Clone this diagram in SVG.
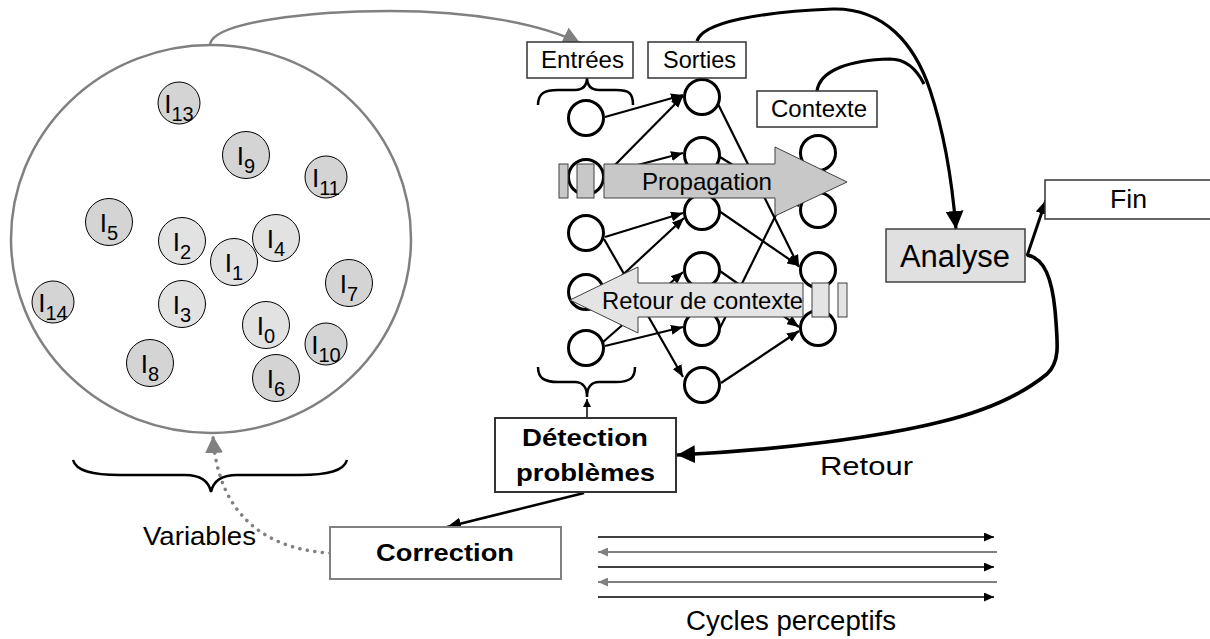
<svg xmlns="http://www.w3.org/2000/svg" width="1210" height="639" viewBox="0 0 1210 639">
<style>
text{font-family:"Liberation Sans",Arial,sans-serif;fill:#000}
.lbl{font-size:24px}
.bold{font-weight:bold;font-size:24px}
.box{fill:#fff;stroke:#333;stroke-width:1.5}
.nn{fill:#fff;stroke:#000;stroke-width:3}
.edge{stroke:#000;stroke-width:2.2;fill:none;marker-end:url(#ah)}
.var{stroke:#000;stroke-width:1}
.vl{fill:#e2e2e2}
.vd{fill:#d4d4d4}
.vt{font-size:26px}
.sub{font-size:20px}
.brace{fill:none;stroke:#000;stroke-width:2.5}
.curve{fill:none;stroke:#000;stroke-width:3.2}
.cyc{stroke:#000;stroke-width:1.6;marker-end:url(#ahS)}
.cycg{stroke:#808080;stroke-width:2;marker-end:url(#ahSG)}
</style>
<defs>
<marker id="ah" markerUnits="userSpaceOnUse" markerWidth="13" markerHeight="10" refX="12" refY="5" orient="auto"><path d="M0,0 L12,5 L0,10 Z" fill="#000"/></marker>
<marker id="ahB" markerUnits="userSpaceOnUse" markerWidth="19" markerHeight="18" refX="18" refY="9" orient="auto"><path d="M0,0 L18,9 L0,18 Z" fill="#000"/></marker>
<marker id="ahM" markerUnits="userSpaceOnUse" markerWidth="15" markerHeight="12" refX="14" refY="6" orient="auto"><path d="M0,0 L14,6 L0,12 Z" fill="#000"/></marker>
<marker id="ahG" markerUnits="userSpaceOnUse" markerWidth="18" markerHeight="18" refX="17" refY="9" orient="auto"><path d="M0,0 L17,9 L0,18 Z" fill="#808080"/></marker>
<marker id="ahS" markerUnits="userSpaceOnUse" markerWidth="11" markerHeight="9" refX="10" refY="4.5" orient="auto"><path d="M0,0 L10,4.5 L0,9 Z" fill="#000"/></marker>
<marker id="ahSG" markerUnits="userSpaceOnUse" markerWidth="11" markerHeight="9" refX="10" refY="4.5" orient="auto"><path d="M0,0 L10,4.5 L0,9 Z" fill="#808080"/></marker>
<marker id="ahT" markerUnits="userSpaceOnUse" markerWidth="9" markerHeight="8" refX="8" refY="4" orient="auto"><path d="M0,0 L8,4 L0,8 Z" fill="#000"/></marker>
</defs>

<!-- Variables cloud -->
<g id="variables-set">
<ellipse cx="211" cy="239" rx="200" ry="194" fill="#fff" stroke="#808080" stroke-width="2.5"/>
</g>
<g id="var-I13"><circle class="var vd" cx="179" cy="103" r="21"/><text class="vt" x="179" y="113" text-anchor="middle">I<tspan class="sub" dy="8">13</tspan></text></g>
<g id="var-I9"><circle class="var vd" cx="246" cy="155" r="23.5"/><text class="vt" x="246" y="165" text-anchor="middle">I<tspan class="sub" dy="8">9</tspan></text></g>
<g id="var-I11"><circle class="var vd" cx="326" cy="177" r="21"/><text class="vt" x="326" y="187" text-anchor="middle">I<tspan class="sub" dy="8">11</tspan></text></g>
<g id="var-I5"><circle class="var vd" cx="109" cy="222" r="23.5"/><text class="vt" x="109" y="232" text-anchor="middle">I<tspan class="sub" dy="8">5</tspan></text></g>
<g id="var-I2"><circle class="var vl" cx="182" cy="241" r="23.5"/><text class="vt" x="182" y="251" text-anchor="middle">I<tspan class="sub" dy="8">2</tspan></text></g>
<g id="var-I4"><circle class="var vl" cx="276" cy="238" r="23.5"/><text class="vt" x="276" y="248" text-anchor="middle">I<tspan class="sub" dy="8">4</tspan></text></g>
<g id="var-I1"><circle class="var vl" cx="234" cy="262" r="23.5"/><text class="vt" x="234" y="272" text-anchor="middle">I<tspan class="sub" dy="8">1</tspan></text></g>
<g id="var-I7"><circle class="var vd" cx="349" cy="283" r="23.5"/><text class="vt" x="349" y="293" text-anchor="middle">I<tspan class="sub" dy="8">7</tspan></text></g>
<g id="var-I14"><circle class="var vd" cx="53" cy="302" r="21"/><text class="vt" x="53" y="312" text-anchor="middle">I<tspan class="sub" dy="8">14</tspan></text></g>
<g id="var-I3"><circle class="var vl" cx="182" cy="304" r="23.5"/><text class="vt" x="182" y="314" text-anchor="middle">I<tspan class="sub" dy="8">3</tspan></text></g>
<g id="var-I0"><circle class="var vl" cx="266" cy="325" r="23.5"/><text class="vt" x="266" y="335" text-anchor="middle">I<tspan class="sub" dy="8">0</tspan></text></g>
<g id="var-I10"><circle class="var vd" cx="326" cy="344" r="21"/><text class="vt" x="326" y="354" text-anchor="middle">I<tspan class="sub" dy="8">10</tspan></text></g>
<g id="var-I8"><circle class="var vd" cx="150" cy="363" r="23.5"/><text class="vt" x="150" y="373" text-anchor="middle">I<tspan class="sub" dy="8">8</tspan></text></g>
<g id="var-I6"><circle class="var vd" cx="276" cy="378" r="23.5"/><text class="vt" x="276" y="388" text-anchor="middle">I<tspan class="sub" dy="8">6</tspan></text></g>

<!-- connectors -->
<g id="connectors">
<path d="M210,44 C215,22 310,11 390,11 C475,11 540,24 580,43" fill="none" stroke="#808080" stroke-width="2.5" marker-end="url(#ahG)"/>
<path d="M330,553 C272,550 218,520 213,436" fill="none" stroke="#808080" stroke-width="3.5" stroke-linecap="round" stroke-dasharray="0.1 7.5" marker-end="url(#ahG)"/>
<line class="edge" x1="605" y1="117" x2="683" y2="95"/>
<line class="edge" x1="610" y1="170" x2="683" y2="96"/>
<line class="edge" x1="615" y1="171" x2="683" y2="153"/>
<line class="edge" x1="605" y1="237" x2="683" y2="213"/>
<line class="edge" x1="600" y1="296" x2="684" y2="218"/>
<line class="edge" x1="604" y1="239" x2="683" y2="377"/>
<line class="edge" x1="605" y1="346" x2="683" y2="327"/>
<line class="edge" x1="603" y1="342" x2="683" y2="272"/>
<line class="edge" x1="718" y1="104" x2="799" y2="267"/>
<line class="edge" x1="720" y1="157" x2="799" y2="206"/>
<line class="edge" x1="719" y1="211" x2="799" y2="266"/>
<line class="edge" x1="720" y1="328" x2="800" y2="166"/>
<line class="edge" x1="720" y1="271" x2="799" y2="327"/>
<line class="edge" x1="721" y1="383" x2="799" y2="331"/>
<path class="curve" d="M697,41 C703,22 760,12 833,9 C885,8 915,45 930,90 C945,135 952,180 956,229" marker-end="url(#ahB)"/>
<path class="curve" d="M817,91 C820,70 850,60 890,59 C905,59 916,68 924,84"/>
<line x1="1027" y1="256" x2="1046" y2="200" stroke="#000" stroke-width="3" marker-end="url(#ahM)"/>
<path d="M1027,255 C1045,258 1052,280 1055,310 C1058,345 1060,362 1047,374 C1025,392 990,410 940,422 C880,437 780,450 677,455" fill="none" stroke="#000" stroke-width="3.6" marker-end="url(#ahB)"/>
<line x1="584" y1="493" x2="447" y2="527" stroke="#000" stroke-width="2.5" marker-end="url(#ahM)"/>
<line x1="587" y1="418" x2="587" y2="399" stroke="#000" stroke-width="1.5" marker-end="url(#ahT)"/>
<line class="cyc" x1="598" y1="537" x2="994" y2="537"/>
<line class="cycg" x1="997" y1="552" x2="598" y2="552"/>
<line class="cyc" x1="598" y1="567" x2="994" y2="567"/>
<line class="cycg" x1="997" y1="582" x2="598" y2="582"/>
<line class="cyc" x1="598" y1="597" x2="994" y2="597"/>
</g>

<!-- braces -->
<g id="brace-entrees"><path class="brace" d="M538,105 C538,93 545,90 558,90 L575,90 C583,90 587,85 587,77 C587,85 591,90 599,90 L616,90 C629,90 633,93 633,105"/></g>
<g id="brace-bottom"><path class="brace" d="M538,367 C538,378 544,382 558,382 L575,382 C583,382 587,388 587,397 C587,388 591,382 599,382 L616,382 C630,382 635,378 635,367"/></g>
<g id="brace-variables"><path class="brace" d="M73,460 C76,471 92,475 120,475 L185,475 C202,475 209,482 211,492 C213,482 220,475 237,475 L300,475 C328,475 344,471 347,460"/></g>

<!-- network nodes -->
<g id="in1"><circle class="nn" cx="586" cy="118" r="17.5"/></g>
<g id="in2"><circle class="nn" cx="586" cy="177" r="17.5"/></g>
<g id="in3"><circle class="nn" cx="586" cy="233" r="17.5"/></g>
<g id="in4"><circle class="nn" cx="586" cy="292" r="17.5"/></g>
<g id="in5"><circle class="nn" cx="586" cy="348" r="17.5"/></g>
<g id="h1"><circle class="nn" cx="702" cy="97" r="17.5"/></g>
<g id="h2"><circle class="nn" cx="702" cy="155" r="17.5"/></g>
<g id="h3"><circle class="nn" cx="702" cy="212" r="17.5"/></g>
<g id="h4"><circle class="nn" cx="702" cy="270" r="17.5"/></g>
<g id="h5"><circle class="nn" cx="702" cy="328" r="17.5"/></g>
<g id="h6"><circle class="nn" cx="702" cy="385" r="17.5"/></g>
<g id="o1"><circle class="nn" cx="818" cy="153" r="17.5"/></g>
<g id="o2"><circle class="nn" cx="818" cy="210" r="17.5"/></g>
<g id="o3"><circle class="nn" cx="818" cy="270" r="17.5"/></g>
<g id="o4"><circle class="nn" cx="818" cy="328" r="17.5"/></g>

<!-- big arrows -->
<g id="propagation">
<rect x="559" y="164" width="9" height="34" fill="#c8c8c8" stroke="#404040" stroke-width="1"/>
<rect x="577" y="164" width="17" height="34" fill="#c8c8c8" stroke="#404040" stroke-width="1"/>
<polygon points="604,164 775,164 775,147 847,182 775,216 775,198 604,198" fill="#c8c8c8" stroke="#404040" stroke-width="1"/>
<text class="lbl" x="642" y="190" textLength="130" lengthAdjust="spacingAndGlyphs">Propagation</text>
</g>
<g id="retour-contexte">
<polygon points="803,283 638,283 638,267 570,300 638,333 638,317 803,317" fill="#e4e4e4" stroke="#404040" stroke-width="1"/>
<rect x="812" y="283" width="17" height="34" fill="#e4e4e4" stroke="#404040" stroke-width="1"/>
<rect x="838" y="283" width="9" height="34" fill="#e4e4e4" stroke="#404040" stroke-width="1"/>
<text class="lbl" x="602" y="309" textLength="201" lengthAdjust="spacingAndGlyphs">Retour de contexte</text>
</g>

<!-- label boxes -->
<g id="entrees"><rect class="box" x="527" y="42" width="106" height="36"/><text class="lbl" x="541" y="68" textLength="83" lengthAdjust="spacingAndGlyphs">Entrées</text></g>
<g id="sorties"><rect class="box" x="648" y="42" width="98" height="36"/><text class="lbl" x="663" y="68" textLength="73" lengthAdjust="spacingAndGlyphs">Sorties</text></g>
<g id="contexte"><rect class="box" x="757" y="91" width="120" height="36"/><text class="lbl" x="771" y="117" textLength="96" lengthAdjust="spacingAndGlyphs">Contexte</text></g>
<g id="analyse"><rect x="886" y="229" width="139" height="53" fill="#e0e0e0" stroke="#404040" stroke-width="1.5"/><text x="900" y="267" font-size="31" textLength="110" lengthAdjust="spacingAndGlyphs">Analyse</text></g>
<g id="fin"><rect class="box" x="1045" y="180" width="175" height="39"/><text x="1110" y="208" font-size="25" textLength="37" lengthAdjust="spacingAndGlyphs">Fin</text></g>
<g id="detection"><rect x="495" y="418" width="181" height="74" fill="#fff" stroke="#333" stroke-width="2"/><text class="bold" x="522" y="446" textLength="126" lengthAdjust="spacingAndGlyphs">Détection</text><text class="bold" x="516" y="481" textLength="139" lengthAdjust="spacingAndGlyphs">problèmes</text></g>
<g id="correction"><rect x="330" y="527" width="231" height="52" fill="#fff" stroke="#808080" stroke-width="2"/><text class="bold" x="376" y="561" textLength="138" lengthAdjust="spacingAndGlyphs">Correction</text></g>

<!-- free labels -->
<g id="labels">
<text x="820" y="475" font-size="26" textLength="93" lengthAdjust="spacingAndGlyphs">Retour</text>
<text x="143" y="545" font-size="26" textLength="113" lengthAdjust="spacingAndGlyphs">Variables</text>
<text x="686" y="630" font-size="27" textLength="210" lengthAdjust="spacingAndGlyphs">Cycles perceptifs</text>
</g>
</svg>
